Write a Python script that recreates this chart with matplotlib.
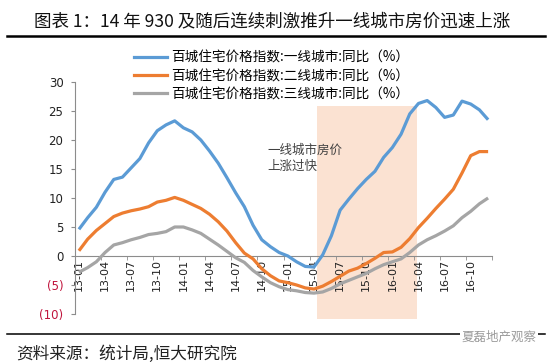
import matplotlib
matplotlib.use('Agg')
import matplotlib.pyplot as plt
import matplotlib.patches as mpatches
from matplotlib.lines import Line2D

plt.rcParams['font.family'] = ['Noto Sans CJK SC', 'DejaVu Sans']

# 百城住宅价格指数 同比(%), 2013-01 .. 2016-12
tier1 = [4.6, 6.6, 8.4, 11.0, 13.2, 13.6, 15.2, 16.8, 19.5, 21.6, 22.6, 23.3,
         22.1, 21.4, 20.0, 18.1, 16.0, 13.5, 10.9, 8.5, 5.3, 2.8, 1.6, 0.6,
         0.0, -1.0, -1.8, -1.9, 0.2, 3.5, 7.9, 9.8, 11.6, 13.2, 14.6, 17.0,
         18.7, 21.0, 24.5, 26.3, 26.8, 25.6, 23.9, 24.3, 26.7, 26.2, 25.2, 23.5]
tier2 = [0.9, 2.9, 4.4, 5.6, 6.8, 7.4, 7.8, 8.1, 8.5, 9.3, 9.6, 10.1,
         9.6, 8.9, 8.2, 7.2, 5.9, 4.3, 2.3, 0.5, -0.5, -2.2, -3.4, -4.3,
         -4.6, -5.0, -5.5, -5.7, -5.2, -4.4, -3.5, -2.6, -2.1, -1.3, -0.4, 0.6,
         0.7, 1.5, 3.0, 4.9, 6.5, 8.2, 9.8, 11.5, 14.3, 17.3, 18.0, 18.0]
tier3 = [-2.8, -2.0, -1.0, 0.6, 1.9, 2.3, 2.8, 3.2, 3.7, 3.9, 4.2, 5.0,
         5.0, 4.5, 3.9, 2.9, 1.9, 0.8, -0.3, -1.1, -2.5, -3.6, -4.6, -5.3,
         -5.8, -6.0, -6.3, -6.4, -6.2, -5.6, -4.8, -4.2, -3.6, -3.0, -2.2, -1.5,
         -1.0, -0.5, 0.6, 1.9, 2.8, 3.5, 4.3, 5.2, 6.6, 7.7, 9.0, 10.0]

series_labels = ['百城住宅价格指数:一线城市:同比（%）',
                 '百城住宅价格指数:二线城市:同比（%）',
                 '百城住宅价格指数:三线城市:同比（%）']
colors = ['#5B9BD5', '#ED7D31', '#A5A5A5']

tick_labels = ['13-01', '13-04', '13-07', '13-10', '14-01', '14-04', '14-07', '14-10',
               '15-01', '15-04', '15-07', '15-10', '16-01', '16-04', '16-07', '16-10']
yticks = [-10, -5, 0, 5, 10, 15, 20, 25, 30]
ytick_labels = ['(10)', '(5)', '0', '5', '10', '15', '20', '25', '30']

# shaded period (15-04 .. 16-04), in month index
shade_start, shade_end = 27.35, 38.85

fig = plt.figure(figsize=(5.5, 3.62), dpi=100)
ax = fig.add_axes([0.1356, 0.1326, 0.7598, 0.6409])

x = list(range(len(tier1)))
for ys, c, lab in zip([tier1, tier2, tier3], colors, series_labels):
    ax.plot(x, ys, color=c, linewidth=2.3, label=lab, zorder=3, solid_capstyle='butt')

ax.add_patch(mpatches.Rectangle((shade_start, -10.9), shade_end - shade_start, 36.8,
                                facecolor='#FBE2D2', edgecolor='none', zorder=0,
                                clip_on=False))

ax.set_xlim(-0.5, len(tier1) - 0.5)
ax.set_ylim(-10, 30)

# axes styling
for s in ['top', 'right']:
    ax.spines[s].set_visible(False)
ax.spines['bottom'].set_position(('data', 0))
ax.spines['bottom'].set_color('#8C8C8C')
ax.spines['left'].set_color('#8C8C8C')
ax.spines['bottom'].set_zorder(2)

ax.set_xticks(x[::3])
ax.set_xticklabels(tick_labels, rotation=90, fontsize=8, color='#222222',
                   family=['DejaVu Sans'])
ax.set_xticks([i - 0.5 for i in range(0, len(tier1) + 1, 3)], minor=True)
ax.tick_params(axis='x', which='major', length=0, pad=2)
ax.tick_params(axis='x', which='minor', length=3, color='#8C8C8C')

ax.set_yticks(yticks)
ax.set_yticklabels(ytick_labels, fontsize=8.5, family=['DejaVu Sans'])
ax.tick_params(axis='y', length=3, color='#8C8C8C', pad=5)
for t, v in zip(ax.get_yticklabels(), yticks):
    t.set_color('#C0143C' if v < 0 else '#222222')

# legend
handles = [Line2D([0], [0], color=c, linewidth=2.3) for c in colors]
fig.legend(handles, series_labels, loc='upper left', bbox_to_anchor=(0.232, 0.878),
           frameon=False, fontsize=9.8, handlelength=2.4, handletextpad=0.3,
           labelspacing=0.3, borderpad=0)

# annotation
fig.text(0.487, 0.602, '一线城市房价\n上涨过快', fontsize=9, color='#404040',
         va='top', ha='left', linespacing=1.3)

# title and rules
fig.text(0.062, 0.94, '图表 1：14 年 930 及随后连续刺激推升一线城市房价迅速上涨',
         fontsize=12.6, va='center', ha='left', color='#111111')
fig.add_artist(Line2D([0.013, 0.99], [1 - 35.5 / 362] * 2, color='black', linewidth=1.8))
fig.add_artist(Line2D([0.013, 0.99], [1 - 334 / 362] * 2, color='black', linewidth=1.1))
fig.text(0.03, 1 - 354 / 362, '资料来源：统计局,恒大研究院', fontsize=12,
         va='center', ha='left', color='#222222')
fig.text(0.975, 1 - 337 / 362, '夏磊地产观察', fontsize=9, va='center', ha='right',
         color='#9A9A9A', zorder=5,
         bbox=dict(facecolor='white', edgecolor='none', pad=1))

fig.savefig('out.png', dpi=100)
